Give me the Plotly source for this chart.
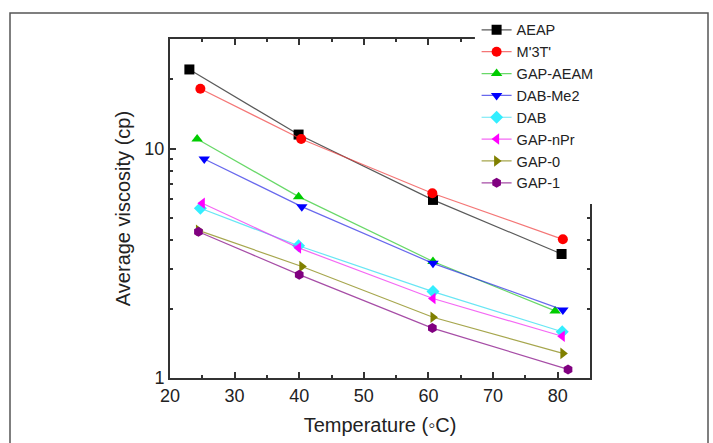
import plotly.graph_objects as go

# ---- data ----
names = ["AEAP", "M'3T'", "GAP-AEAM", "DAB-Me2", "DAB", "GAP-nPr", "GAP-0", "GAP-1"]

t_aeap = [23.0, 39.9, 60.7, 80.6]
v_aeap = [22.1, 11.5, 5.97, 3.47]

t_m3t = [24.7, 40.3, 60.6, 80.8]
v_m3t = [18.2, 11.0, 6.38, 4.02]

t_gap_aeam = [24.2, 39.9, 60.7, 79.6]
v_gap_aeam = [11.0, 6.17, 3.22, 1.96]

t_dab_me2 = [25.3, 40.4, 60.7, 80.8]
v_dab_me2 = [9.0, 5.58, 3.16, 1.98]

t_dab = [24.7, 39.9, 60.7, 80.7]
v_dab = [5.49, 3.77, 2.38, 1.59]

t_gap_npr = [25.0, 39.9, 60.7, 80.7]
v_gap_npr = [5.77, 3.69, 2.22, 1.52]

t_gap0 = [24.4, 40.4, 60.7, 80.8]
v_gap0 = [4.4, 3.06, 1.84, 1.28]

t_gap1 = [24.4, 40.0, 60.6, 81.6]
v_gap1 = [4.34, 2.82, 1.65, 1.09]

x_ticks = [20, 30, 40, 50, 60, 70, 80]
y_ticks = [1, 10]
y_tick_text = ["1", "10"]
y_minor = [2, 3, 4, 5, 6, 7, 8, 9, 20, 30]

xs = [t_aeap, t_m3t, t_gap_aeam, t_dab_me2, t_dab, t_gap_npr, t_gap0, t_gap1]
ys = [v_aeap, v_m3t, v_gap_aeam, v_dab_me2, v_dab, v_gap_npr, v_gap0, v_gap1]

marker_colors = ["#000000", "#ff0000", "#00cc00", "#0000ff", "#33eeff", "#ff00ff", "#808000", "#800080"]
line_colors = ["rgba(60,60,60,0.85)", "rgba(240,60,60,0.7)", "rgba(40,200,40,0.7)",
               "rgba(40,40,230,0.7)", "rgba(40,220,240,0.7)", "rgba(240,40,240,0.7)",
               "rgba(128,128,0,0.7)", "rgba(128,0,128,0.7)"]
symbols = ["square", "circle", "triangle-up", "triangle-down", "diamond",
           "triangle-left", "triangle-right", "hexagon"]

fig = go.Figure()
for n, x, y, mc, lc, s in zip(names, xs, ys, marker_colors, line_colors, symbols):
    fig.add_trace(go.Scatter(
        x=x, y=y, name=n, mode="lines+markers",
        line=dict(color=lc, width=1.2),
        marker=dict(symbol=s, size=10, color=mc, line=dict(width=0)),
    ))

axis_col = "#333333"
font_family = "Liberation Sans, Arial, sans-serif"

fig.update_layout(
    width=713, height=443,
    margin=dict(l=170, r=123, t=39, b=65, autoexpand=False),
    paper_bgcolor="white", plot_bgcolor="white",
    font=dict(family=font_family, color="#222222"),
    showlegend=True,
    legend=dict(
        x=0.73, y=1.074, xanchor="left", yanchor="top",
        bgcolor="rgba(0,0,0,0)", borderwidth=0,
        font=dict(size=14.5, family=font_family, color="#222222"),
        itemwidth=30,
    ),
    xaxis=dict(
        range=[20, 85], tickmode="array", tickvals=x_ticks,
        ticks="inside", ticklen=6, tickwidth=1.5, tickcolor=axis_col,
        showline=True, linewidth=2, linecolor=axis_col, mirror="ticks",
        showgrid=False, zeroline=False,
        tickfont=dict(size=18, family=font_family, color="#222222"),
        minor=dict(ticks="inside", ticklen=3, tickwidth=1.5, tickcolor=axis_col,
                   dtick=5, tick0=25, showgrid=False),
        title=dict(text="Temperature (\u25e6C)", standoff=13,
                   font=dict(size=20, family=font_family, color="#222222")),
    ),
    yaxis=dict(
        type="log", range=[0, 1.4771], tickmode="array", tickvals=y_ticks,
        ticktext=y_tick_text,
        ticks="inside", ticklen=6, tickwidth=1.5, tickcolor=axis_col,
        showline=True, linewidth=2, linecolor=axis_col, mirror="ticks",
        showgrid=False, zeroline=False,
        tickfont=dict(size=18, family=font_family, color="#222222"),
        minor=dict(ticks="inside", ticklen=3, tickwidth=1.5, tickcolor=axis_col,
                   tickmode="array", tickvals=y_minor, showgrid=False),
        title=dict(text="Average viscosity (cp)", standoff=8,
                   font=dict(size=20, family=font_family, color="#222222")),
    ),
    shapes=[
        # white block that hides the mirrored axes behind the legend
        dict(type="rect", xref="paper", yref="paper", x0=0.726, x1=1.03,
             y0=0.513, y1=1.06, fillcolor="white", line=dict(width=0), layer="above"),
        # outer frame of the figure panel
        dict(type="rect", xref="paper", yref="paper",
             x0=-160 / 420, x1=538 / 420, y0=(378 - 470) / 339, y1=(378 - 13) / 339,
             line=dict(color="#555555", width=1.5), fillcolor="rgba(0,0,0,0)", layer="below"),
    ],
)

fig.write_html("out.html",
               config={"displayModeBar": False},
               post_script="document.body.style.margin='0';document.body.style.overflow='hidden';")
